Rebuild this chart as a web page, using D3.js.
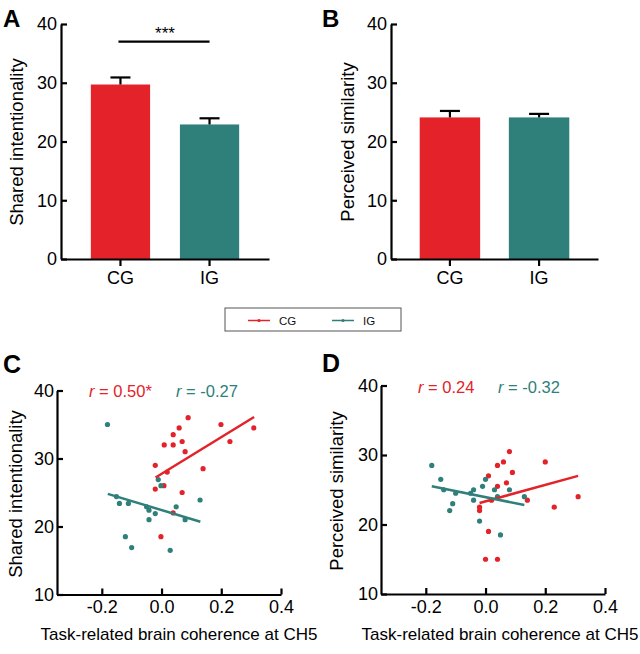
<!DOCTYPE html>
<html>
<head>
<meta charset="utf-8">
<script src="https://cdn.jsdelivr.net/npm/d3@7"></script>
<style>
  html, body { margin: 0; padding: 0; background: #fff; }
  svg { display: block; font-family: "Liberation Sans", Arial, Helvetica, sans-serif; }
</style>
</head>
<body>
<svg id="chart" width="640" height="654"></svg>
<script>
// ---------------- DATA ----------------
const groups = ["CG", "IG"];
const sharedMeans = [29.7, 22.9];
const sharedSEM = [1.2, 1.05];
const similarityMeans = [24.1, 24.1];
const similaritySEM = [1.1, 0.6];

const barTicks = [0, 10, 20, 30, 40];
const scatterYTicks = [10, 20, 30, 40];
const scatterXTicks = [-0.2, 0.0, 0.2, 0.4];

// Panel C: coherence vs shared intentionality
const cgCoherenceC = [0.089, 0.059, 0.039, 0.009, 0.039, 0.069, 0.079, -0.021, 0.019, -0.021, 0.008, 0.069, 0.139, 0.199, 0.229, 0.309, 0.039, -0.002];
const cgSharedC    = [36.0, 34.5, 33.5, 32.0, 32.0, 32.5, 31.0, 29.0, 28.0, 25.5, 26.0, 25.0, 28.5, 35.0, 32.5, 34.5, 22.0, 18.5];
const igCoherenceC = [-0.181, -0.011, -0.002, -0.151, -0.141, -0.111, -0.050, -0.042, -0.021, -0.042, 0.049, 0.079, 0.129, -0.121, -0.100, 0.029];
const igSharedC    = [35.0, 26.9, 26.0, 24.4, 23.4, 23.4, 22.9, 22.4, 21.9, 21.0, 22.9, 21.0, 23.9, 18.5, 16.9, 16.5];
const cgFitXC = [-0.02, 0.31], cgFitYC = [27.2, 36.1];
const igFitXC = [-0.18, 0.13], igFitYC = [24.8, 20.7];

// Panel D: coherence vs perceived similarity
const cgCoherenceD = [0.08, 0.06, 0.04, 0.09, 0.01, 0.07, 0.04, 0.02, -0.02, -0.02, 0.14, 0.20, 0.23, 0.31, 0.01, 0.00, 0.04];
const cgSimilarD   = [30.5, 29.0, 28.5, 27.5, 27.0, 26.0, 25.5, 23.5, 22.5, 22.0, 23.5, 29.0, 22.5, 24.0, 19.0, 15.0, 15.0];
const igCoherenceD = [-0.18, -0.15, -0.14, -0.10, -0.11, -0.12, -0.04, -0.05, -0.04, -0.01, 0.00, 0.03, 0.04, 0.08, -0.02, 0.05, 0.13];
const igSimilarD   = [28.5, 26.5, 25.0, 24.5, 23.0, 22.0, 25.0, 24.5, 23.5, 25.5, 26.5, 25.0, 24.0, 25.0, 20.5, 18.5, 24.0];
const cgFitXD = [-0.02, 0.31], cgFitYD = [23.1, 27.0];
const igFitXD = [-0.18, 0.13], igFitYD = [25.5, 22.8];

const rLabelsC = ["0.50*", "-0.27"];
const rLabelsD = ["0.24", "-0.32"];

// ---------------- STYLE ----------------
const RED = "#e3222a";
const TEAL = "#2f7f7b";
const colors = [RED, TEAL];
const svg = d3.select("#chart");

function styleAxis(g) {
  g.selectAll("path.domain").attr("stroke", "#000").attr("stroke-width", 2.2);
  g.selectAll(".tick line").attr("stroke", "#000").attr("stroke-width", 2.2);
  g.selectAll(".tick text").attr("fill", "#000").style("font-size", "18px")
    .style("font-family", '"Liberation Sans", Arial, sans-serif');
}

// ---------------- BAR PANELS ----------------
function barPanel(opt) {
  const y = d3.scaleLinear().domain([0, 40]).range([259, 24]);
  const x = d3.scaleBand().domain(groups).range(opt.xr).paddingInner(opt.pad).paddingOuter(opt.pad);
  const g = svg.append("g");

  g.selectAll("rect.bar").data(groups).join("rect")
    .attr("x", d => x(d)).attr("width", x.bandwidth())
    .attr("y", (d, i) => y(opt.means[i]))
    .attr("height", (d, i) => y(0) - y(opt.means[i]))
    .attr("fill", (d, i) => colors[i]);

  // error bars (upper)
  groups.forEach((d, i) => {
    const cx = x(d) + x.bandwidth() / 2;
    g.append("line").attr("x1", cx).attr("x2", cx)
      .attr("y1", y(opt.means[i])).attr("y2", y(opt.means[i] + opt.sem[i]))
      .attr("stroke", "#000").attr("stroke-width", 2.2);
    g.append("line").attr("x1", cx - 10).attr("x2", cx + 10)
      .attr("y1", y(opt.means[i] + opt.sem[i])).attr("y2", y(opt.means[i] + opt.sem[i]))
      .attr("stroke", "#000").attr("stroke-width", 2.2);
  });

  const ya = g.append("g").attr("transform", `translate(${opt.xr[0]},0)`)
    .call(d3.axisLeft(y).tickValues(barTicks).tickSize(-6).tickSizeOuter(0).tickPadding(4));
  styleAxis(ya);
  const xa = g.append("g").attr("transform", `translate(0,${y(0)})`)
    .call(d3.axisBottom(x).tickSize(7).tickSizeOuter(0).tickPadding(5));
  styleAxis(xa);

  g.append("text").attr("transform", `translate(${opt.titleX},142) rotate(-90)`)
    .attr("text-anchor", "middle").attr("dy", "0.35em")
    .style("font-size", "18.5px").text(opt.title);

  g.append("text").attr("x", opt.letterX).attr("y", 27)
    .style("font-size", "24px").style("font-weight", "bold").text(opt.letter);

  if (opt.sig) {
    const x1 = x("CG") + x.bandwidth() / 2, x2 = x("IG") + x.bandwidth() / 2;
    g.append("line").attr("x1", x1 - 2).attr("x2", x2).attr("y1", 41.7).attr("y2", 41.7)
      .attr("stroke", "#000").attr("stroke-width", 2.2);
    g.append("text").attr("x", (x1 + x2) / 2).attr("y", 39).attr("text-anchor", "middle")
      .style("font-size", "17px").text(opt.sig);
  }
}

barPanel({ xr: [61, 269], pad: 0.335, means: sharedMeans, sem: sharedSEM,
  title: "Shared intentionality", titleX: 17, letter: "A", letterX: 3, sig: "***" });
barPanel({ xr: [391, 598], pad: 0.322, means: similarityMeans, sem: similaritySEM,
  title: "Perceived similarity", titleX: 348, letter: "B", letterX: 322 });

// ---------------- LEGEND ----------------
const lg = svg.append("g");
lg.append("rect").attr("x", 225).attr("y", 308).attr("width", 176).attr("height", 23)
  .attr("fill", "none").attr("stroke", "#555").attr("stroke-width", 1);
const legendItems = [{ name: "CG", x: 248 }, { name: "IG", x: 332 }];
legendItems.forEach((d, i) => {
  lg.append("line").attr("x1", d.x).attr("x2", d.x + 22).attr("y1", 320.5).attr("y2", 320.5)
    .attr("stroke", colors[i]).attr("stroke-width", 1.5);
  lg.append("circle").attr("cx", d.x + 11).attr("cy", 320.5).attr("r", 1.6).attr("fill", colors[i]);
  lg.append("text").attr("x", d.x + 31).attr("y", 320.5).attr("dy", "0.35em")
    .style("font-size", "11.5px").attr("fill", "#111").text(d.name);
});

// ---------------- SCATTER PANELS ----------------
function scatterPanel(opt) {
  const x = d3.scaleLinear().domain([-0.35, 0.4]).range(opt.xr);
  const y = d3.scaleLinear().domain([10, 40]).range(opt.yr);
  const g = svg.append("g");

  const ya = g.append("g").attr("transform", `translate(${opt.xr[0]},0)`)
    .call(d3.axisLeft(y).tickValues(scatterYTicks).tickSize(-6).tickSizeOuter(0).tickPadding(3));
  styleAxis(ya);
  const xa = g.append("g").attr("transform", `translate(0,${opt.yr[0]})`)
    .call(d3.axisBottom(x).tickValues(scatterXTicks).tickFormat(d => d.toFixed(1))
      .tickSize(-6).tickSizeOuter(0).tickPadding(6));
  styleAxis(xa);

  const sets = [
    { xs: opt.cgX, ys: opt.cgY, fx: opt.cgFx, fy: opt.cgFy, c: RED },
    { xs: opt.igX, ys: opt.igY, fx: opt.igFx, fy: opt.igFy, c: TEAL }
  ];
  sets.forEach(s => {
    g.append("g").selectAll("circle").data(s.xs).join("circle")
      .attr("cx", d => x(d)).attr("cy", (d, i) => y(s.ys[i])).attr("r", 2.6).attr("fill", s.c);
  });
  sets.forEach(s => {
    g.append("line").attr("x1", x(s.fx[0])).attr("x2", x(s.fx[1]))
      .attr("y1", y(s.fy[0])).attr("y2", y(s.fy[1]))
      .attr("stroke", s.c).attr("stroke-width", 2.5);
  });

  // r labels
  opt.rLabels.forEach((lab, i) => {
    const t = g.append("text").attr("x", opt.rX[i]).attr("y", opt.rY)
      .style("font-size", "16.5px").attr("fill", colors[i]);
    t.append("tspan").style("font-style", "italic").text("r");
    t.append("tspan").text(" = " + lab);
  });

  g.append("text").attr("transform", `translate(${opt.titleX},${opt.titleY}) rotate(-90)`)
    .attr("text-anchor", "middle").attr("dy", "0.35em")
    .style("font-size", "18.5px").text(opt.title);
  g.append("text").attr("x", opt.xTitleX).attr("y", 640).attr("text-anchor", "middle")
    .style("font-size", "17px").text("Task-related brain coherence at CH5");
  g.append("text").attr("x", opt.letterX).attr("y", opt.letterY)
    .style("font-size", "25px").style("font-weight", "bold").text(opt.letter);
}

scatterPanel({ xr: [57, 281], yr: [594.5, 390.5],
  cgX: cgCoherenceC, cgY: cgSharedC, igX: igCoherenceC, igY: igSharedC,
  cgFx: cgFitXC, cgFy: cgFitYC, igFx: igFitXC, igFy: igFitYC,
  rLabels: rLabelsC, rX: [89, 176], rY: 396.5,
  title: "Shared intentionality", titleX: 16, titleY: 494, xTitleX: 179,
  letter: "C", letterX: 3, letterY: 373 });

scatterPanel({ xr: [381, 605], yr: [594, 385.5],
  cgX: cgCoherenceD, cgY: cgSimilarD, igX: igCoherenceD, igY: igSimilarD,
  cgFx: cgFitXD, cgFy: cgFitYD, igFx: igFitXD, igFy: igFitYD,
  rLabels: rLabelsD, rX: [418, 498], rY: 393,
  title: "Perceived similarity", titleX: 337, titleY: 491, xTitleX: 500,
  letter: "D", letterX: 322, letterY: 372 });
</script>
</body>
</html>
